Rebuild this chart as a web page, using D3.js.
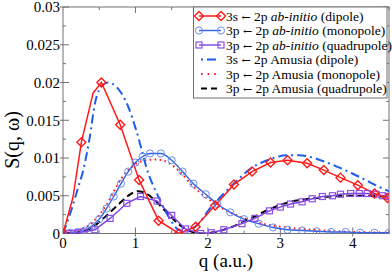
<!DOCTYPE html>
<html>
<head>
<meta charset="utf-8">
<script src="https://cdn.jsdelivr.net/npm/d3@7"></script>
<style>
body{margin:0;background:#fff}
text{font-family:"Liberation Serif","Times New Roman",serif}
</style>
</head>
<body>
<div id="chart"></div>
<script>
// 3s <- 2p ab-initio (dipole)
var dipAbQ=[0,0.138,0.254,0.415,0.53,0.79,1.05,1.32,1.6,1.83,2.1,2.36,2.61,2.865,3.1,3.37,3.6,3.83,4.07,4.3,4.48,4.56]
var dipAbS=[0,0.0048,0.0121,0.0186,0.0200,0.0144,0.0071,0.0017,0.0000,0.0009,0.0037,0.0065,0.0082,0.0094,0.0097,0.0093,0.0084,0.0074,0.0064,0.0053,0.0047,0.0045]
var dipAbNoMark=[1,3,21]

// 3p <- 2p ab-initio (monopole)
var monAbQ=[0,0.1,0.2,0.3,0.4,0.5,0.6,0.7,0.8,0.9,1.0,1.1,1.2,1.35,1.5,1.65,1.8,1.97,2.13,2.31,2.5,2.7,2.9,3.1,3.3,3.5,3.7,3.9,4.1,4.3,4.5]
var monAbS=[0,0.0001,0.0002,0.0004,0.0010,0.0019,0.0033,0.0049,0.0066,0.0082,0.0094,0.0102,0.0106,0.0106,0.0097,0.0082,0.0066,0.0052,0.0039,0.0028,0.0019,0.0013,0.0008,0.0005,0.0004,0.0003,0.0002,0.0002,0.0001,0.0001,0.0001]

// 3p <- 2p ab-initio (quadrupole)
var quadAbQ=[0,0.07,0.14,0.21,0.28,0.44,0.65,0.88,1.07,1.3,1.5,1.69,1.9,2.05,2.22,2.47,2.65,2.85,3.0,3.14,3.3,3.44,3.58,3.72,3.83,3.97,4.09,4.2,4.32,4.41,4.49]
var quadAbS=[0,0,0,0.0001,0.0002,0.0005,0.0020,0.0040,0.0049,0.0043,0.0024,0.0006,0,0.0001,0.0005,0.0013,0.0020,0.0030,0.0035,0.0039,0.0042,0.0046,0.0049,0.0050,0.0052,0.0053,0.0053,0.0053,0.0052,0.0050,0.0049]

// 3s <- 2p Amusia (dipole)
var dipAmQ=[0,0.115,0.2,0.28,0.37,0.44,0.55,0.62,0.74,0.9,1.01,1.18,1.32,1.46,1.62,1.75,1.87,2.01,2.17,2.4,2.59,2.82,3.1,3.26,3.67,4.09,4.5,4.56]
var dipAmS=[0,0.0031,0.0058,0.0084,0.0128,0.0172,0.0197,0.0200,0.0194,0.0168,0.0137,0.0079,0.0048,0.0022,0.0004,0.0005,0.0013,0.0031,0.0048,0.0070,0.0086,0.0097,0.01035,0.01035,0.0093,0.0075,0.0056,0.0054]

// 3p <- 2p Amusia (monopole)
var monAmQ=[0,0.2,0.4,0.6,0.8,1.0,1.15,1.3,1.45,1.6,1.8,2.0,2.2,2.4,2.6,2.8,3.0,3.3,3.6,4.0,4.56]
var monAmS=[0,0.0004,0.0014,0.0038,0.0072,0.0092,0.0097,0.0098,0.0094,0.0083,0.0062,0.0046,0.0033,0.0024,0.0017,0.0012,0.0009,0.0006,0.0004,0.0002,0.0001]

// 3p <- 2p Amusia (quadrupole)
var quadAmQ=[0,0.2,0.37,0.58,0.76,0.9,1.03,1.15,1.3,1.45,1.6,1.76,1.94,2.1,2.31,2.59,2.87,3.14,3.4,3.58,3.9,4.23,4.56]
var quadAmS=[0,0.0001,0.0006,0.0022,0.0038,0.0050,0.0056,0.0053,0.0041,0.0026,0.0012,0.0003,0,0.0002,0.0008,0.0020,0.0033,0.0042,0.0046,0.0048,0.0050,0.0050,0.0047]

var xTicks=[0,1,2,3,4]
var yTicks=[0,0.005,0.01,0.015,0.02,0.025,0.03]
var yTickLabels=["0","0.005","0.01","0.015","0.02","0.025","0.03"]
var legendLabels=[
    ["3s","ab-initio"," (dipole)"],
    ["3p","ab-initio"," (monopole)"],
    ["3p","ab-initio"," (quadrupole)"],
    ["3s","","Amusia (dipole)"],
    ["3p","","Amusia (monopole)"],
    ["3p","","Amusia (quadrupole)"]
]

var svgWidth=392
var svgHeight=274
var margin={top:7, left:63, right:3, bottom:40.5}
var chartWidth=svgWidth-margin.left-margin.right
var chartHeight=svgHeight-margin.top-margin.bottom

var svg=d3.select("#chart").append("svg")
    .attr("width", svgWidth)
    .attr("height", svgHeight)

var chartGroup=svg.append("g")
    .attr("transform", `translate(${margin.left}, ${margin.top})`)

var xScale=d3.scaleLinear().domain([0,4.5]).range([0,chartWidth])
var yScale=d3.scaleLinear().domain([0,0.03]).range([chartHeight,0])

var red="#ff1a1a", blue="#2f62e8", blueDash="#1c5cf0", purple="#7d3fe0", axisCol="#707070"

svg.append("defs").append("clipPath").attr("id","clip")
    .append("rect").attr("width", chartWidth).attr("height", chartHeight)

// ticks on all four sides
var minorX=d3.range(0,4.51,0.5).filter(d=>xTicks.indexOf(d)<0)
var minorY=d3.range(0.0025,0.03,0.005)
function tickLines(vals, len, out){
    vals.forEach(v=>{
        var x=xScale(v)
        chartGroup.append("line").attr("x1",x).attr("x2",x).attr("y1",chartHeight+out).attr("y2",chartHeight-len)
            .attr("stroke",axisCol).attr("stroke-width",1)
        chartGroup.append("line").attr("x1",x).attr("x2",x).attr("y1",0).attr("y2",len)
            .attr("stroke",axisCol).attr("stroke-width",1)
    })
}
function tickLinesY(vals, len, out){
    vals.forEach(v=>{
        var y=yScale(v)
        chartGroup.append("line").attr("x1",-out).attr("x2",len).attr("y1",y).attr("y2",y)
            .attr("stroke",axisCol).attr("stroke-width",1)
        chartGroup.append("line").attr("x1",chartWidth-len).attr("x2",chartWidth).attr("y1",y).attr("y2",y)
            .attr("stroke",axisCol).attr("stroke-width",1)
    })
}
tickLines(xTicks.slice(1),6,3)
tickLines(minorX,3,0)
tickLinesY(yTicks.slice(1),6,3)
tickLinesY(minorY,3,0)

chartGroup.append("rect").attr("width",chartWidth).attr("height",chartHeight)
    .attr("fill","none").attr("stroke",axisCol).attr("stroke-width",1)

chartGroup.selectAll(".xlab").data(xTicks).enter().append("text")
    .attr("x", d=>xScale(d)).attr("y", chartHeight+14)
    .attr("text-anchor","middle").attr("font-size",15).text(d=>d)

chartGroup.selectAll(".ylab").data(yTicks).enter().append("text")
    .attr("x", -3).attr("y", d=>yScale(d)).attr("dy","0.35em")
    .attr("text-anchor","end").attr("font-size",15).text((d,i)=>yTickLabels[i])

svg.append("text").attr("x", margin.left+chartWidth/2).attr("y", 267)
    .attr("text-anchor","middle").attr("font-size",19).text("q (a.u.)")
svg.append("text").attr("transform","translate(19,140) rotate(-90)")
    .attr("text-anchor","middle").attr("font-size",20).text("S(q, \u03c9)")

var plot=chartGroup.append("g").attr("clip-path","url(#clip)")

function toPts(qs, ss){ return qs.map((q,i)=>({q:q, s:ss[i]})) }
var lineLin=d3.line().x(d=>xScale(d.q)).y(d=>yScale(d.s))
var lineSmooth=d3.line().x(d=>xScale(d.q)).y(d=>yScale(d.s)).curve(d3.curveMonotoneX)

function drawLine(pts, gen, color, dash, width){
    plot.append("path").datum(pts).attr("d", gen)
        .attr("fill","none").attr("stroke",color).attr("stroke-width",width)
        .attr("stroke-dasharray",dash)
}

var dipAb=toPts(dipAbQ,dipAbS)
var monAb=toPts(monAbQ,monAbS)
var quadAb=toPts(quadAbQ,quadAbS)

drawLine(toPts(monAmQ,monAmS), lineSmooth, red, "1.6,3.4", 2)
drawLine(monAb, lineSmooth, blue, null, 1.4)
drawLine(toPts(quadAmQ,quadAmS), lineSmooth, "#000", "7,4", 2)
drawLine(quadAb, lineLin, purple, null, 1.4)
drawLine(toPts(dipAmQ,dipAmS), lineSmooth, blueDash, "9,4,2,4", 2)
drawLine(dipAb, lineLin, red, null, 1.5)

function diamond(g, x, y, color){
    g.append("path").attr("d",`M${x},${y-4.5}L${x+4.5},${y}L${x},${y+4.5}L${x-4.5},${y}Z`)
        .attr("fill","none").attr("stroke",color).attr("stroke-width",1.4)
}
function circ(g, x, y, color){
    g.append("circle").attr("cx",x).attr("cy",y).attr("r",3.6)
        .attr("fill","none").attr("stroke",color).attr("stroke-width",1)
}
function square(g, x, y, color){
    g.append("rect").attr("x",x-3).attr("y",y-3).attr("width",6).attr("height",6)
        .attr("fill","none").attr("stroke",color).attr("stroke-width",1.2)
}

monAb.forEach(d=>circ(plot, xScale(d.q), yScale(d.s), "#6a8cf0"))
quadAb.forEach(d=>square(plot, xScale(d.q), yScale(d.s), "#8a4fe8"))
dipAb.forEach((d,i)=>{ if(dipAbNoMark.indexOf(i)<0) diamond(plot, xScale(d.q), yScale(d.s), red) })

// legend
var legend=svg.append("g")
legend.append("rect").attr("x",193.5).attr("y",7).attr("width",193.5).attr("height",91)
    .attr("fill","#fff").attr("stroke",axisCol).attr("stroke-width",1)

var legendStyles=[
    {color:red, dash:null, w:1.5, mark:"d"},
    {color:blue, dash:null, w:1.4, mark:"c"},
    {color:purple, dash:null, w:1.4, mark:"s"},
    {color:blueDash, dash:"2,4,9,4", w:2, mark:null},
    {color:red, dash:"1.6,5", w:2, mark:null},
    {color:"#000", dash:"6,4", w:2, mark:null}
]
legendLabels.forEach((lab,i)=>{
    var y=16+i*14.5
    var st=legendStyles[i]
    var x1=st.mark ? 199 : 201, x2=st.mark ? 221 : 217
    legend.append("line").attr("x1",x1).attr("x2",x2).attr("y1",y).attr("y2",y)
        .attr("stroke",st.color).attr("stroke-width",st.w).attr("stroke-dasharray",st.dash)
    if(st.mark=="d"){ diamond(legend,199,y,red); diamond(legend,221,y,red) }
    if(st.mark=="c"){ circ(legend,199,y,"#6a8cf0"); circ(legend,221,y,"#6a8cf0") }
    if(st.mark=="s"){ square(legend,199,y,"#8a4fe8"); square(legend,221,y,"#8a4fe8") }
    var t=legend.append("text").attr("x",226).attr("y",y+4.5).attr("font-size",13.5)
    t.append("tspan").text(lab[0]+" ")
    t.append("tspan").attr("font-family","DejaVu Serif").attr("font-size",11).text("\u2190")
    t.append("tspan").text(" 2p ")
    if(lab[1]) t.append("tspan").attr("font-style","italic").text(lab[1])
    t.append("tspan").text(lab[2])
})
</script>
</body>
</html>
